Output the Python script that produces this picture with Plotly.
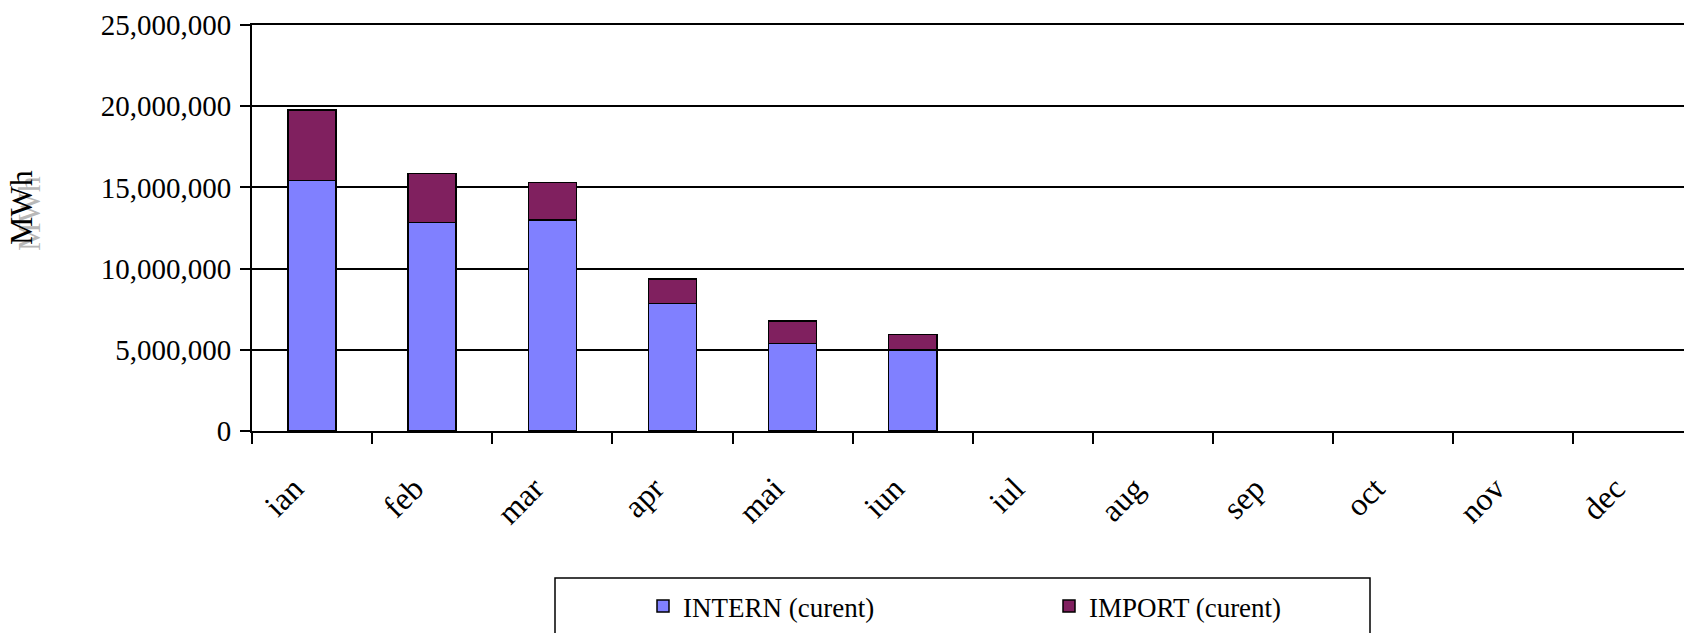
import plotly.graph_objects as go

months = ["ian", "feb", "mar", "apr", "mai", "iun", "iul", "aug", "sep", "oct", "nov", "dec"]
intern = [15440000, 12830000, 12980000, 7850000, 5390000, 4980000, None, None, None, None, None, None]
imports = [4340000, 3020000, 2310000, 1500000, 1380000, 970000, None, None, None, None, None, None]
y_ticks = [0, 5000000, 10000000, 15000000, 20000000, 25000000]
y_labels = ["0", "5,000,000", "10,000,000", "15,000,000", "20,000,000", "25,000,000"]

FONT = "Liberation Serif, Times New Roman, serif"
W, H = 1684, 633
L, T, B = 252, 25, 202
plot_w = W - L
plot_h = H - T - B

def px_x(px):
    return (px - L) / plot_w

def px_y(py):
    return (H - B - py) / plot_h

fig = go.Figure()
fig.add_trace(go.Bar(x=months, y=intern, name="INTERN (curent)",
                     marker=dict(color="#8080FF", line=dict(color="black", width=1.5))))
fig.add_trace(go.Bar(x=months, y=imports, name="IMPORT (curent)",
                     marker=dict(color="#80205F", line=dict(color="black", width=1.5))))

fig.update_layout(
    width=W, height=H,
    margin=dict(l=L, r=0, t=T, b=B, pad=0, autoexpand=False),
    barmode="stack", bargap=0.6,
    plot_bgcolor="white", paper_bgcolor="white",
    font=dict(family=FONT, color="black"),
    showlegend=True,
    legend=dict(orientation="h", x=px_x(643), y=px_y(582), xanchor="left", yanchor="top",
                bgcolor="rgba(0,0,0,0)", borderwidth=0,
                font=dict(family=FONT, size=27, color="black"),
                entrywidth=361, traceorder="normal"),
    xaxis=dict(type="category", categoryorder="array", categoryarray=months,
               range=[-0.5, 11.42], showline=True, linecolor="black", linewidth=2,
               mirror=True, automargin=False,
               ticks="outside", tickson="boundaries", ticklen=11, tickwidth=2, tickcolor="black",
               tickangle=-45, tickfont=dict(family=FONT, size=32, color="black"),
               ticklabelstandoff=24, ticklabelshift=-18, showgrid=False, zeroline=False),
    yaxis=dict(range=[0, 25000000], tickvals=y_ticks, ticktext=y_labels, automargin=False,
               showline=True, linecolor="black", linewidth=2,
               ticks="outside", ticklen=10, tickwidth=2, tickcolor="black",
               tickfont=dict(family=FONT, size=29, color="black"),
               ticklabelstandoff=3,
               showgrid=True, gridcolor="black", gridwidth=2, zeroline=False),
    shapes=[dict(type="rect", xref="paper", yref="paper",
                 x0=px_x(555), x1=px_x(1370), y0=px_y(650), y1=px_y(578),
                 line=dict(color="black", width=1.5), fillcolor="rgba(0,0,0,0)", layer="above")],
    annotations=[
        dict(text="MWh", xref="paper", yref="paper", x=px_x(29), y=px_y(214),
             xanchor="center", yanchor="middle",
             textangle=-90, showarrow=False, font=dict(family=FONT, size=32, color="#B8B8B8")),
        dict(text="MWh", xref="paper", yref="paper", x=px_x(21), y=px_y(208),
             xanchor="center", yanchor="middle",
             textangle=-90, showarrow=False, font=dict(family=FONT, size=32, color="black")),
    ],
)

fig.write_html("out.html", config={"displayModeBar": False},
               post_script="document.body.style.margin='0';document.body.style.overflow='hidden';")
